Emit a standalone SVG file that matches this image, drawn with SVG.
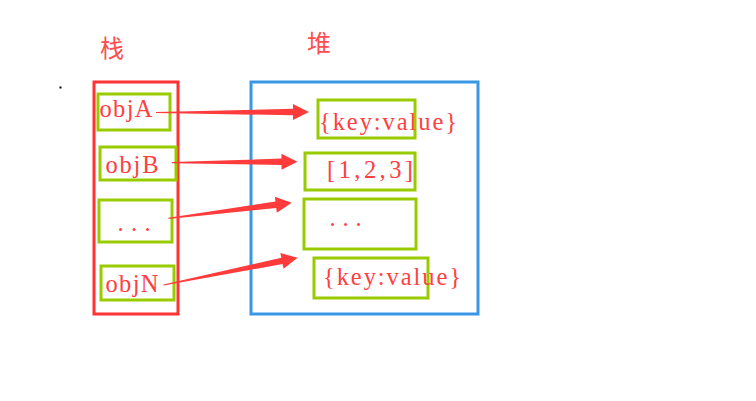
<svg xmlns="http://www.w3.org/2000/svg" width="756" height="401" viewBox="0 0 756 401">
<style>
.title{font-family:"Noto Sans CJK SC","Noto Sans",sans-serif;font-size:24px;fill:#ff4d4d}
.lbl{font-family:"Liberation Serif","DejaVu Serif",serif;font-size:24.5px;fill:#ff4040}
.item{fill:none;stroke:#99cc00;stroke-width:3}
.arrow{fill:#ff3b3b}
</style>
<rect width="756" height="401" fill="#ffffff"/>
<rect x="59.5" y="86.5" width="2" height="2" fill="#000"/>
<text class="title" x="100" y="57">栈</text>
<text class="title" x="307" y="52">堆</text>
<g id="stack"><rect x="94" y="82" width="84" height="232" fill="none" stroke="#ff3333" stroke-width="3"/></g>
<g id="heap"><rect x="251" y="82" width="227" height="232" fill="none" stroke="#3a97e6" stroke-width="3"/></g>
<g id="objA"><rect class="item" x="98" y="94" width="72" height="36"/><text class="lbl" x="99.5" y="117" textLength="53" lengthAdjust="spacing">objA</text></g>
<g id="objB"><rect class="item" x="100" y="147" width="76" height="33"/><text class="lbl" x="105.5" y="173" textLength="53" lengthAdjust="spacing">objB</text></g>
<g id="objDots"><rect class="item" x="99" y="200" width="73" height="42"/><text class="lbl" x="117.5" y="231" textLength="33" lengthAdjust="spacing">...</text></g>
<g id="objN"><rect class="item" x="101" y="266" width="73" height="34"/><text class="lbl" x="105.5" y="292" textLength="53" lengthAdjust="spacing">objN</text></g>
<g id="heap1"><rect class="item" x="318" y="100" width="97" height="38"/><text class="lbl" x="319" y="130" textLength="138" lengthAdjust="spacing">{key:value}</text></g>
<g id="heap2"><rect class="item" x="305" y="153" width="110" height="37"/><text class="lbl" x="327" y="178" textLength="86" lengthAdjust="spacing">[1,2,3]</text></g>
<g id="heap3"><rect class="item" x="304" y="199" width="112" height="50"/><text class="lbl" x="329.5" y="226" textLength="32" lengthAdjust="spacing">...</text></g>
<g id="heap4"><rect class="item" x="314" y="258" width="114" height="40"/><text class="lbl" x="323" y="285" textLength="138" lengthAdjust="spacing">{key:value}</text></g>
<g id="connectors">
<path class="arrow" transform="translate(156,112.5) rotate(-0.2)" d="M0,-0.6 L137,-3.2 L137,-8 L153,0 L137,8 L137,3.2 L0,0.6 Z"/>
<path class="arrow" transform="translate(172,162.7) rotate(-0.46)" d="M0,-0.6 L109.5,-3.2 L109.5,-8 L125.5,0 L109.5,8 L109.5,3.2 L0,0.6 Z"/>
<path class="arrow" transform="translate(168.5,218.3) rotate(-7.2)" d="M0,-0.6 L108.2,-3.2 L108.2,-8 L124.2,0 L108.2,8 L108.2,3.2 L0,0.6 Z"/>
<path class="arrow" transform="translate(163.5,285) rotate(-11.5)" d="M0,-0.6 L120.9,-3.2 L120.9,-8 L136.9,0 L120.9,8 L120.9,3.2 L0,0.6 Z"/>
</g>
</svg>
